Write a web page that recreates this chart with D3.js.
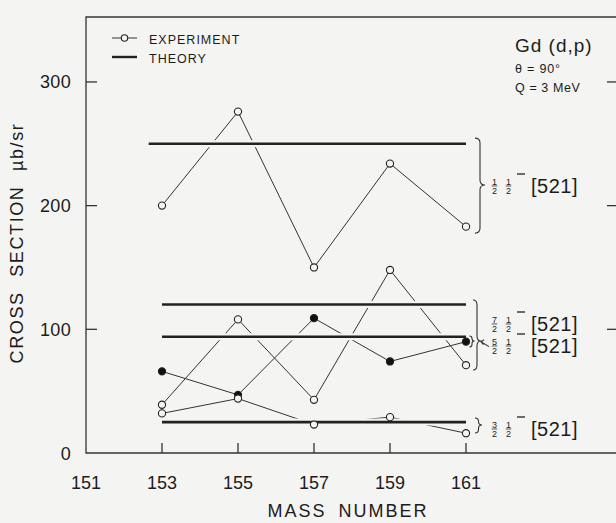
<!DOCTYPE html>
<html><head><meta charset="utf-8">
<script src="https://cdn.jsdelivr.net/npm/d3@7"></script>
<style>
html,body{margin:0;padding:0;background:#f4f4f2;}
svg{display:block;}
text{font-family:"Liberation Sans",Arial,sans-serif;fill:#1c1c1c;}
</style></head>
<body>
<script>
// ---- data ----
const masses = [153, 155, 157, 159, 161];
const expA = [200, 276, 150, 234, 183];   // open circles, 1/2 1/2- band
const expB = [39, 108, 43, 148, 71];      // open circles
const expC = [66, 47, 109, 74, 90];       // filled circles
const expD = [32, 44, 23, 29, 16];        // open circles, 3/2 band
const theoryValues = [250, 120, 94, 25];
const theoryStart = [152.65, 153, 153, 153];
const theoryEnd = 161;
const xTickLabels = [151, 153, 155, 157, 159, 161];
const xTickMarks = [153, 155, 157, 159, 161];
const yTickLabels = [0, 100, 200, 300];
const spinNumerators = ["1", "7", "5", "3"];
const orbitLabel = "[521]";

const W = 616, H = 523;
const svg = d3.select("body").append("svg").attr("width", W).attr("height", H);
const x = d3.scaleLinear().domain([151, 165]).range([86, 618]);
const y = d3.scaleLinear().domain([0, 352.5]).range([453, 17]);

// frame
const frame = svg.append("g").attr("stroke", "#333").attr("stroke-width", 1.3).attr("fill", "none");
frame.append("path").attr("d", `M${x(165)},${y(352.5)}H${x(151)}V${y(0)}H${x(165)}V${y(352.5)}`);
const yTickLen = 11;
yTickLabels.filter(v => v > 0).forEach(v => {
  frame.append("line").attr("x1", x(151)).attr("x2", x(151) + yTickLen).attr("y1", y(v)).attr("y2", y(v));
  frame.append("line").attr("x1", x(165)).attr("x2", x(165) - yTickLen).attr("y1", y(v)).attr("y2", y(v));
});
xTickMarks.forEach(m => {
  frame.append("line").attr("x1", x(m)).attr("x2", x(m)).attr("y1", y(0)).attr("y2", y(0) - 10);
});

// axis labels
const lab = svg.append("g").style("font-size", "18px");
yTickLabels.forEach(v => {
  lab.append("text").attr("x", 71).attr("y", y(v) + 6.5).attr("text-anchor", "end").style("letter-spacing", "0.3px").text(v);
});
xTickLabels.forEach(m => {
  lab.append("text").attr("x", x(m)).attr("y", 489).attr("text-anchor", "middle").text(m);
});
svg.append("text").attr("x", 348).attr("y", 517).attr("text-anchor", "middle")
  .style("font-size", "18px").style("letter-spacing", "2px").style("word-spacing", "5px")
  .text("MASS NUMBER");
svg.append("text").attr("transform", "translate(23,243) rotate(-90)").attr("text-anchor", "middle")
  .style("font-size", "18px").style("letter-spacing", "1.6px").style("word-spacing", "8px")
  .text("CROSS SECTION µb/sr");

// experiment lines
const line = d3.line().x((d, i) => x(masses[i])).y(d => y(d));
const series = [expA, expB, expC, expD];
series.forEach(s => {
  svg.append("path").attr("d", line(s)).attr("fill", "none").attr("stroke", "#333").attr("stroke-width", 1);
});

// theory lines with halo
theoryValues.forEach((v, i) => {
  svg.append("line").attr("x1", x(theoryStart[i])).attr("x2", x(theoryEnd)).attr("y1", y(v)).attr("y2", y(v))
    .attr("stroke", "#f4f4f2").attr("stroke-width", 7);
});
theoryValues.forEach((v, i) => {
  svg.append("line").attr("x1", x(theoryStart[i])).attr("x2", x(theoryEnd)).attr("y1", y(v)).attr("y2", y(v))
    .attr("stroke", "#222").attr("stroke-width", 2.6);
});

// points
series.forEach((s, si) => {
  svg.append("g").selectAll("circle").data(s).join("circle")
    .attr("cx", (d, i) => x(masses[i])).attr("cy", d => y(d)).attr("r", 3.6)
    .attr("fill", si === 2 ? "#111" : "#f4f4f2").attr("stroke", "#222").attr("stroke-width", 1.1);
});

// legend
const lg = svg.append("g");
lg.append("line").attr("x1", 112).attr("x2", 137).attr("y1", 38).attr("y2", 38).attr("stroke", "#333").attr("stroke-width", 1);
lg.append("circle").attr("cx", 124.5).attr("cy", 38).attr("r", 3.2).attr("fill", "#f4f4f2").attr("stroke", "#222").attr("stroke-width", 1.1);
lg.append("line").attr("x1", 112).attr("x2", 137).attr("y1", 57).attr("y2", 57).attr("stroke", "#222").attr("stroke-width", 2.4);
lg.append("text").attr("x", 149).attr("y", 44).style("font-size", "12.5px").style("letter-spacing", "1px").text("EXPERIMENT");
lg.append("text").attr("x", 149).attr("y", 63).style("font-size", "12.5px").style("letter-spacing", "1px").text("THEORY");

// reaction info
svg.append("text").attr("x", 515).attr("y", 52).style("font-size", "19px").style("letter-spacing", "1px").text("Gd (d,p)");
svg.append("text").attr("x", 515).attr("y", 73).style("font-size", "12.5px").style("letter-spacing", "0.8px").text("θ = 90°");
svg.append("text").attr("x", 515).attr("y", 92).style("font-size", "12.5px").style("letter-spacing", "0.6px").text("Q = 3 MeV");

// braces
function brace(x0, y1, y2, ym, w) {
  const xm = x0 + w / 2, r = Math.min(5, (ym - y1) / 2, (y2 - ym) / 2);
  return `M${x0},${y1}Q${xm},${y1} ${xm},${y1 + r}L${xm},${ym - r}Q${xm},${ym} ${x0 + w},${ym}` +
         `Q${xm},${ym} ${xm},${ym + r}L${xm},${y2 - r}Q${xm},${y2} ${x0},${y2}`;
}
const br = svg.append("g").attr("fill", "none").attr("stroke", "#333").attr("stroke-width", 1.1);
br.append("path").attr("d", brace(475, y(254.6), y(177.8), y(216.7), 10));
br.append("path").attr("d", brace(473, y(123.7), y(67.1), y(90.5), 8));
br.append("path").attr("d", brace(469.5, y(94.6), y(85.7), y(90.5), 5));
br.append("path").attr("d", brace(475, y(28.3), y(16.2), y(22.6), 7));
br.append("path").attr("d", `M489,${y(86)}L481,${y(90)}`);
br.append("path").attr("d", `M484,${y(91.5)}L481,${y(90)}L483.5,${y(87.5)}`);

// spin labels
function spinLabel(cy, num) {
  const g = svg.append("g");
  const frac = (cx, n) => {
    g.append("text").attr("x", cx).attr("y", cy - 1.5).attr("text-anchor", "middle").style("font-size", "9px").text(n);
    g.append("line").attr("x1", cx - 2.8).attr("x2", cx + 2.8).attr("y1", cy).attr("y2", cy).attr("stroke", "#333").attr("stroke-width", 0.8);
    g.append("text").attr("x", cx).attr("y", cy + 8).attr("text-anchor", "middle").style("font-size", "9px").text("2");
  };
  frac(494.5, num);
  frac(508.5, "1");
  g.append("line").attr("x1", 517).attr("x2", 525).attr("y1", cy - 12).attr("y2", cy - 12).attr("stroke", "#222").attr("stroke-width", 1.3);
  g.append("text").attr("x", 531).attr("y", cy + 7).style("font-size", "20px").style("letter-spacing", "0.5px").text(orbitLabel);
}
spinLabel(186, spinNumerators[0]);
spinLabel(324, spinNumerators[1]);
spinLabel(346, spinNumerators[2]);
spinLabel(429, spinNumerators[3]);
</script>
</body></html>
